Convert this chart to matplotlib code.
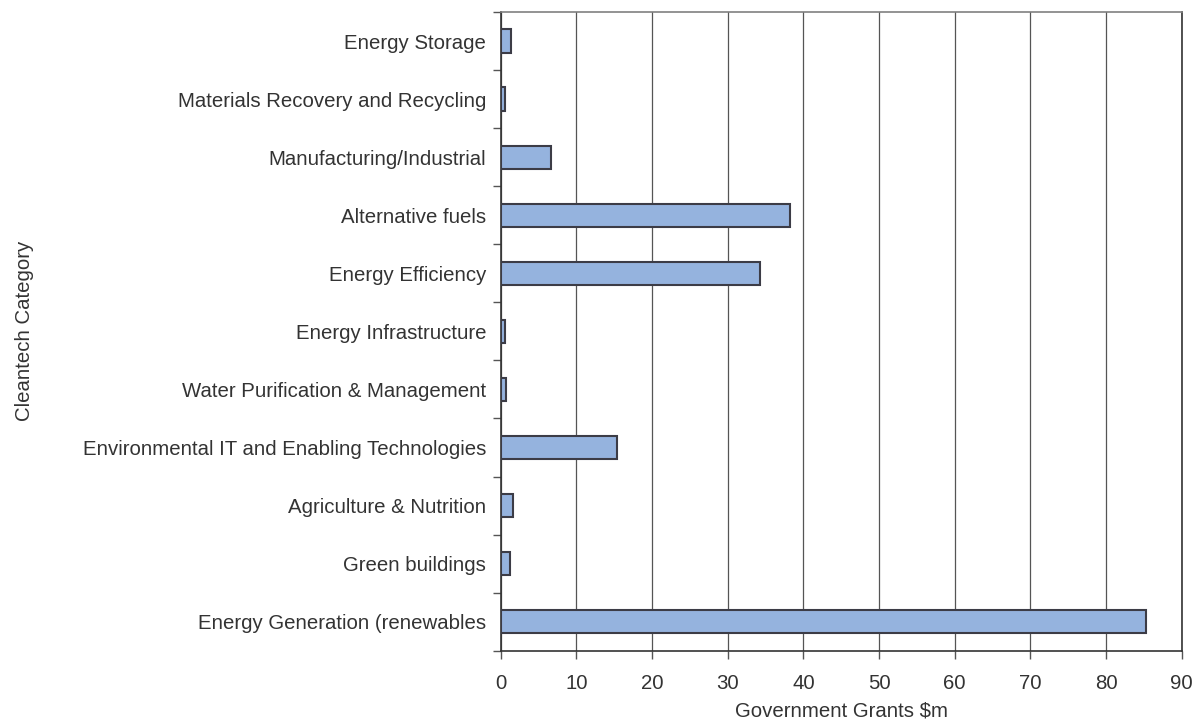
import matplotlib
matplotlib.use("Agg")
import matplotlib.pyplot as plt
import numpy as np

categories = [
    "Energy Storage",
    "Materials Recovery and Recycling",
    "Manufacturing/Industrial",
    "Alternative fuels",
    "Energy Efficiency",
    "Energy Infrastructure",
    "Water Purification & Management",
    "Environmental IT and Enabling Technologies",
    "Agriculture & Nutrition",
    "Green buildings",
    "Energy Generation (renewables",
]
grants = [1.4, 0.5, 6.6, 38.2, 34.3, 0.5, 0.7, 15.3, 1.6, 1.2, 85.3]
xticks = [0, 10, 20, 30, 40, 50, 60, 70, 80, 90]

plt.rcParams['font.family'] = ['Liberation Sans', 'DejaVu Sans']
FS = 14.7
TXT = '#333333'

fig = plt.figure(figsize=(12.04, 7.21), dpi=100)
ax = fig.add_axes([0.4159, 0.0975, 0.5656, 0.8859])

n = len(categories)
y = np.arange(n)[::-1]  # first category at top
ax.barh(y, grants, height=0.4, color='#95b3de', edgecolor='#3c3c46',
        linewidth=1.5, zorder=3)

ax.set_xlim(0, 90)
ax.set_ylim(-0.5, n - 0.5)
ax.set_xticks(xticks)
ax.set_xticklabels([str(v) for v in xticks], fontsize=FS, color=TXT)

# category boundaries as major ticks (no labels), labels at centers via minor ticks
ax.set_yticks(np.arange(-0.5, n, 1.0))
ax.set_yticklabels([])
ax.set_yticks(y, minor=True)
ax.set_yticklabels(categories, minor=True, fontsize=FS, color=TXT)
ax.tick_params(axis='y', which='major', direction='out', length=6, width=1, color='#555555')
ax.tick_params(axis='y', which='minor', length=0, pad=10.6)
ax.tick_params(axis='x', which='major', direction='out', length=6, width=1, color='#555555', pad=11)

ax.grid(axis='x', color='#555555', linewidth=0.9, zorder=0)
ax.grid(axis='y', visible=False)

for s in ['left', 'bottom']:
    ax.spines[s].set_color('#333333')
    ax.spines[s].set_linewidth(1.2)
ax.spines['top'].set_color('#808080')
ax.spines['top'].set_linewidth(1.2)
ax.spines['right'].set_color('#333333')
ax.spines['right'].set_linewidth(1.2)

ax.set_xlabel("Government Grants $m", fontsize=FS, color=TXT, labelpad=6)
ax.set_ylabel("Cleantech Category", fontsize=FS, color=TXT)
ax.yaxis.set_label_coords(-0.685, 0.5)

fig.savefig("out.png", dpi=100)
